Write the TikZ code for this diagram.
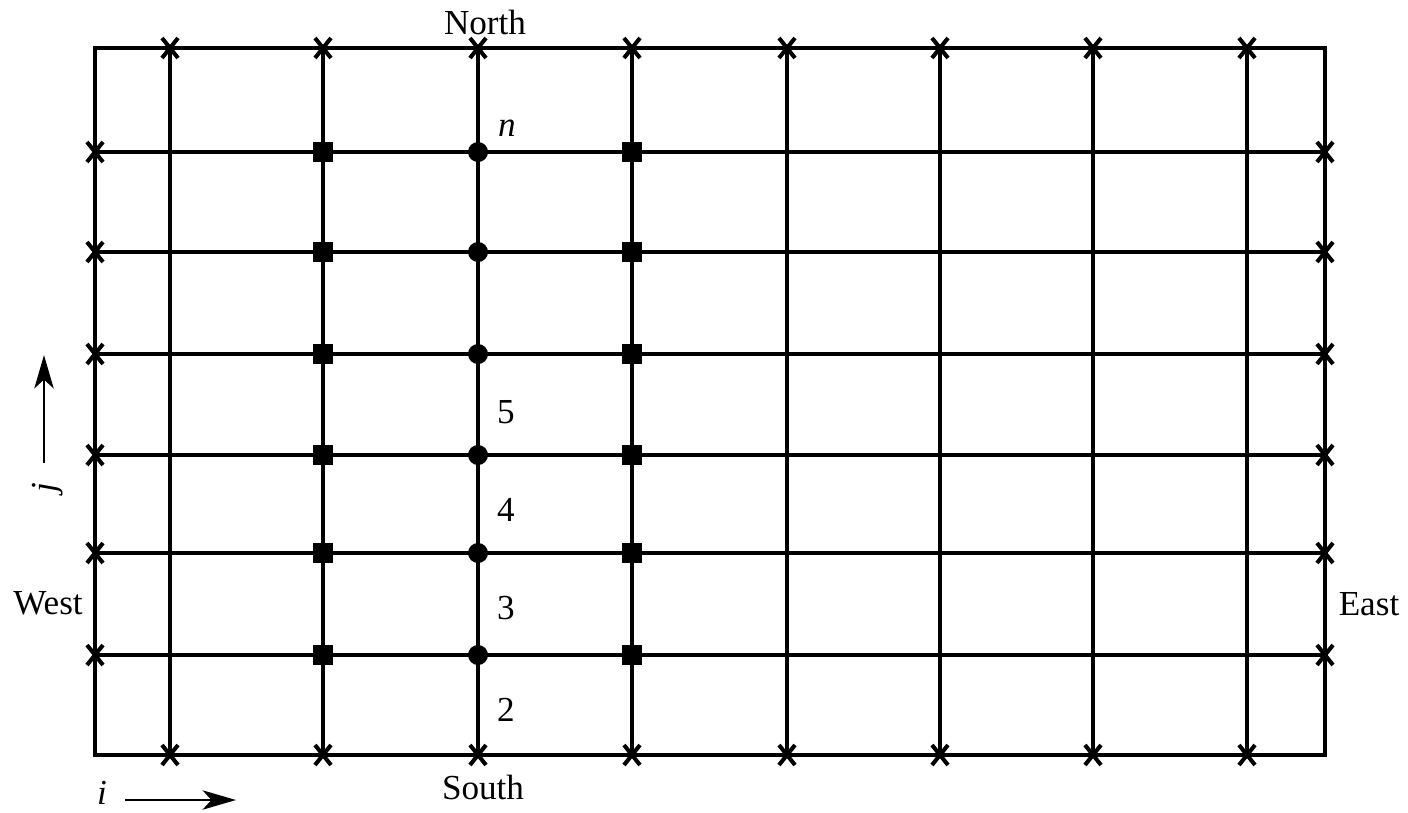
\documentclass[tikz,border=0pt]{standalone}
\usepackage{fontspec}
\setmainfont{Liberation Serif}
\usetikzlibrary{arrows.meta}
\tikzset{
  gridline/.style={line width=2.4pt},
  crossmark/.style={line width=2.3pt},
  lbl/.style={font=\fontsize{20}{24}\selectfont,inner sep=0pt},
  dirarrow/.style={line width=1.4pt,-{Stealth[length=19pt,width=11pt,inset=5pt]}}
}
\begin{document}
\begin{tikzpicture}[x=0.02cm,y=-0.02cm]
\useasboundingbox (0,0) rectangle (1408,812);
% grid
\foreach \x in {170,323,478,632,787,940,1093,1247} {\draw[gridline] (\x,48) -- (\x,755);}
\foreach \y in {152,252,354,455,553,655} {\draw[gridline] (95,\y) -- (1325,\y);}
\draw[gridline] (95,48) rectangle (1325,755);
% boundary crosses
\foreach \x in {170,323,478,632,787,940,1093,1247} {
  \draw[crossmark,shift={(\x,48)}] (-8,-10) -- (8,10) (-8,10) -- (8,-10);
  \draw[crossmark,shift={(\x,755)}] (-8,-10) -- (8,10) (-8,10) -- (8,-10);
}
\foreach \y in {152,252,354,455,553,655} {
  \draw[crossmark,shift={(95,\y)}] (-8,-10) -- (8,10) (-8,10) -- (8,-10);
  \draw[crossmark,shift={(1325,\y)}] (-8,-10) -- (8,10) (-8,10) -- (8,-10);
}
% interior points
\foreach \y in {152,252,354,455,553,655} {
  \fill (313,\y-10) rectangle (333,\y+10);
  \fill (622,\y-10) rectangle (642,\y+10);
  \fill (478,\y) circle (10);
}
% labels
\node[lbl] (north) at (485,22) {North};
\node[lbl] (south) at (483,787) {South};
\node[lbl] (west) at (48,603) {West};
\node[lbl] (east) at (1369,604) {East};
\node[lbl] (nlab) at (507,128) {\textit{n}};
\node[lbl] (five) at (506,412) {5};
\node[lbl] (four) at (506,510) {4};
\node[lbl] (three) at (506,608) {3};
\node[lbl] (two) at (506,710) {2};
% index directions
\node[lbl,rotate=90] (jlab) at (48,488) {\textit{j}};
\coordinate (jtail) at (44,463);
\coordinate (jtip) at (44,355);
\draw[dirarrow] (jtail) -- (jtip);
\node[lbl] (ilab) at (102,793) {\textit{i}};
\coordinate (itail) at (125,800);
\coordinate (itip) at (236,800);
\draw[dirarrow] (itail) -- (itip);
\end{tikzpicture}
\end{document}
